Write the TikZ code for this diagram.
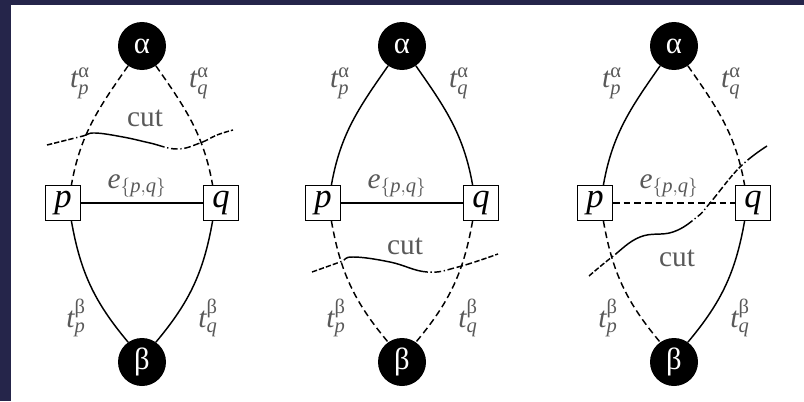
\documentclass[tikz,border=0pt]{standalone}
\usepackage{amsmath}
\usepackage{fontspec}
\setmainfont{Liberation Serif}
\usetikzlibrary{calc}
\definecolor{cornice}{HTML}{25254A}

\tikzset{
    term/.style={circle, fill=black, text=white, minimum size=36pt, inner sep=0pt, font=\fontsize{23}{23}\selectfont},
    pix/.style={draw, line width=1.1pt, fill=white, minimum size=26pt, inner sep=0pt, font=\fontsize{26}{26}\selectfont\itshape},
    link/.style={line width=1.1pt},
    keptedge/.style={solid},
    cutedge/.style={dash pattern=on 5pt off 3pt},
    lab/.style={text=black!65, font=\fontsize{22}{22}\selectfont},
    cutline/.style={line width=1.1pt, dash pattern=on 4pt off 1.5pt on 4pt off 1.5pt on 4pt off 1.5pt on 4pt off 2pt on 1pt off 2pt on 65pt off 2pt on 1pt off 2pt on 5pt off 2pt on 1pt off 2pt on 5pt off 2pt on 5pt off 2pt on 5pt off 2pt},
}

\begin{document}
\begin{tikzpicture}[x=0.75pt, y=0.75pt]
    % cornice e sfondo
    \fill[cornice] (0,0) rectangle (804,401);
    \fill[white] (11,0) rectangle (804,396);

    % i tre tagli
    \foreach \i/\dx/\sap/\saq/\spq/\spb/\sqb in {1/142/cutedge/cutedge/keptedge/keptedge/keptedge,
            2/402/keptedge/keptedge/keptedge/cutedge/cutedge,
            3/674/keptedge/cutedge/cutedge/cutedge/keptedge}{
    \begin{scope}[shift={(\dx,0)}]
        \node[term] (a\i) at (0,355) {α};
        \node[term] (b\i) at (0,39) {β};
        \node[pix] (p\i) at (-79,198) {p};
        \node[pix] (q\i) at (79,198) {q};

        \draw[link,\sap] (a\i.235) to[out=235, in=80] (p\i.65);
        \draw[link,\saq] (a\i.305) to[out=305, in=100] (q\i.115);
        \draw[link,\spb] (p\i.-65) to[out=-80, in=130] (b\i.125);
        \draw[link,\sqb] (q\i.-115) to[out=-100, in=50] (b\i.55);
        \draw[link,\spq] (p\i) -- (q\i);

        \node[lab] (tpa\i) at (-62,318) {$\mathit{t}_{\mathit{p}}^{\text{α}}$};
        \node[lab] (tqa\i) at (57,318) {$\mathit{t}_{\mathit{q}}^{\text{α}}$};
        \node[lab] (tpb\i) at (-66,83) {$\mathit{t}_{\mathit{p}}^{\text{β}}$};
        \node[lab] (tqb\i) at (66,83) {$\mathit{t}_{\mathit{q}}^{\text{β}}$};
        \node[lab] (e\i) at (-5,215) {$\mathit{e}_{\{\mathit{p},\mathit{q}\}}$};
    \end{scope}
    }

    % linee di taglio
    \draw[cutline, shift={(142,0)}] plot[smooth, tension=0.7] coordinates {(-95,256) (-75,261) (-59,265) (-47,268) (-19,264) (8,258) (35,252) (58,258) (75,266) (91,271)};
    \node[lab] (cut1) at (145,283) {cut};
    \draw[cutline, shift={(402,0)}] plot[smooth, tension=0.7] coordinates {(-90,129) (-62,139) (-49,144) (-12,139) (25,129) (56,134) (96,147)};
    \node[lab] (cut2) at (405,155) {cut};
    \draw[cutline, shift={(674,0)}] plot[smooth, tension=0.7] coordinates {(-85,125) (-62,144) (-34,164) (-1,169) (23,184) (36,198) (66,234) (93,255)};
    \node[lab] (cut3) at (677,143) {cut};
\end{tikzpicture}
\end{document}
